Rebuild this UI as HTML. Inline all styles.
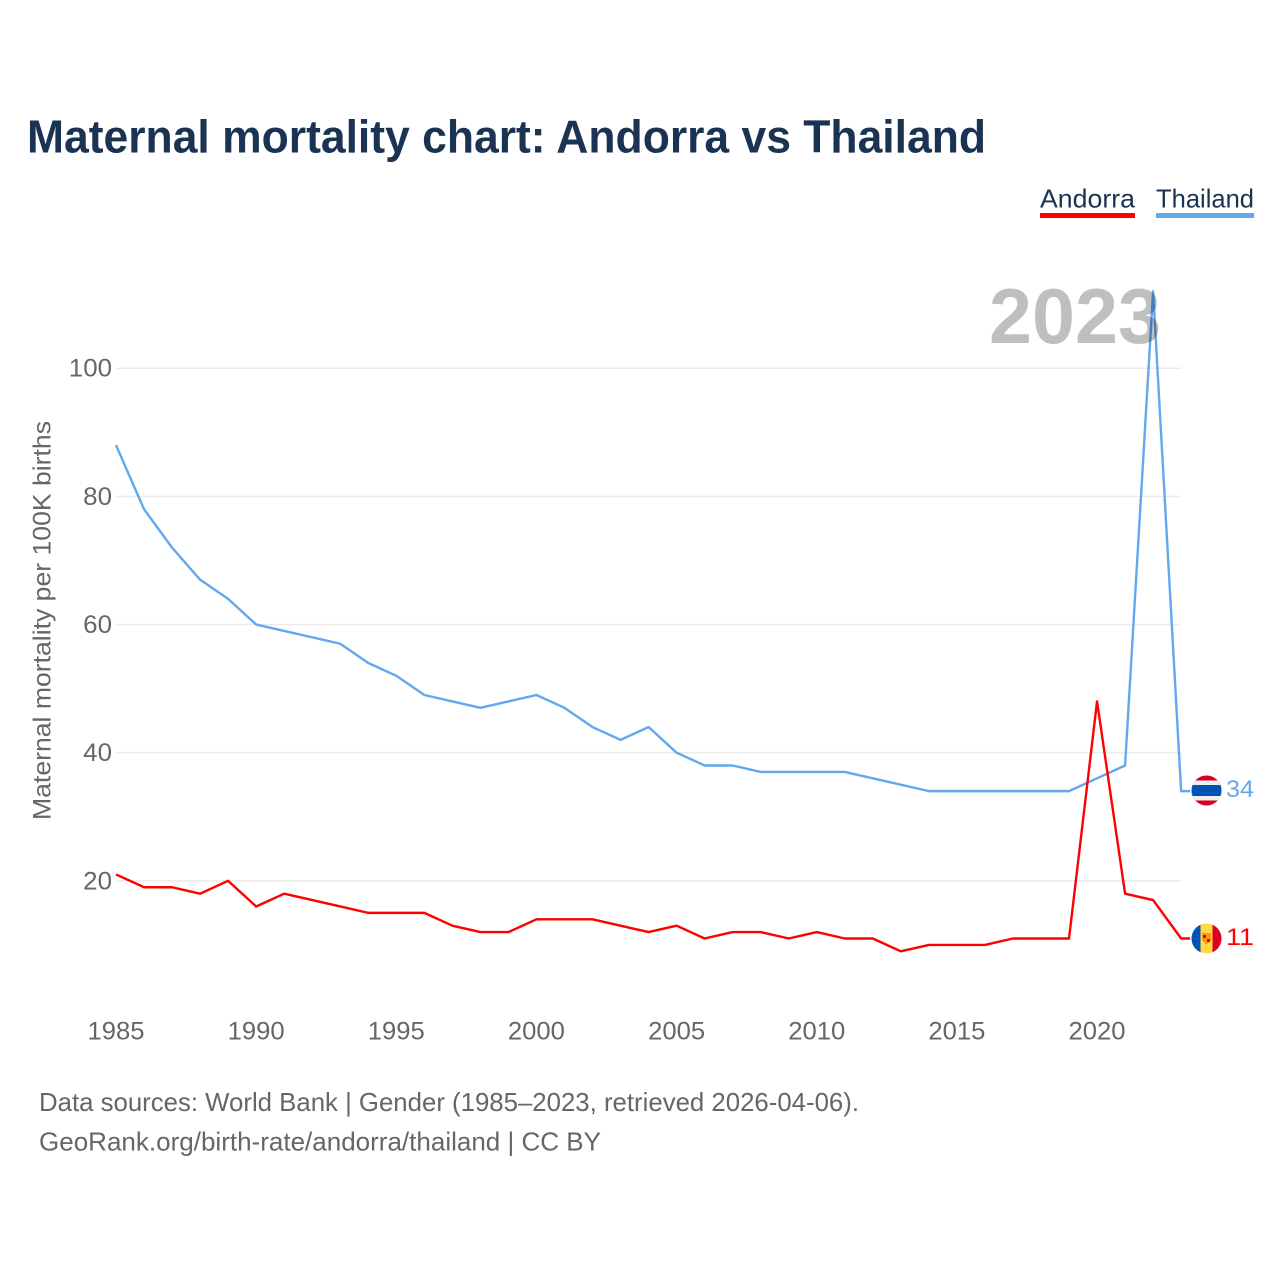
<!DOCTYPE html>
<html>
<head>
<meta charset="utf-8">
<title>Maternal mortality chart: Andorra vs Thailand</title>
<style>
html,body{margin:0;padding:0;background:#fff;width:1280px;height:1280px;overflow:hidden}
svg{display:block}
text{font-family:"Liberation Sans",sans-serif}
</style>
</head>
<body>
<svg id="chart" width="1280" height="1280" viewBox="0 0 1280 1280" xmlns="http://www.w3.org/2000/svg">
  <rect width="1280" height="1280" fill="#fff"/>
  <text x="27" y="152.500" font-size="46" font-weight="700" fill="#1a3352" textLength="959" lengthAdjust="spacingAndGlyphs">Maternal mortality chart: Andorra vs Thailand</text>
  <g>
    <g>
      <text x="1040" y="207.500" font-size="26" fill="#1a3352" textLength="95" lengthAdjust="spacingAndGlyphs">Andorra</text>
      <rect x="1040" y="213" width="95" height="5" fill="#ff0000"/>
    </g>
    <g>
      <text x="1156" y="207.500" font-size="26" fill="#1a3352" textLength="98" lengthAdjust="spacingAndGlyphs">Thailand</text>
      <rect x="1156" y="213" width="98" height="5" fill="#62a8ee"/>
    </g>
  </g>
  <g id="grid"></g>
  <g id="yticks"></g>
  <g id="xticks"></g>
  <text transform="translate(50.500,820) rotate(-90)" x="0" y="0" font-size="25" fill="#666666" textLength="399" lengthAdjust="spacingAndGlyphs">Maternal mortality per 100K births</text>
  <g id="series"></g>
  <text x="989" y="343" font-size="78" font-weight="700" fill="#000" fill-opacity="0.25" textLength="172" lengthAdjust="spacingAndGlyphs">2023</text>

  <defs>
    <clipPath id="flagTh"><circle cx="1206.5" cy="790.5" r="15"/></clipPath>
    <clipPath id="flagAd"><circle cx="1206.5" cy="938.5" r="15"/></clipPath>
  </defs>
  <g clip-path="url(#flagTh)">
    <rect x="1191" y="775" width="31" height="31" fill="#d80027"/>
    <rect x="1191" y="780.500" width="31" height="20" fill="#eeeeee"/>
    <rect x="1191" y="785" width="31" height="11" fill="#0052b4"/>
  </g>
  <g clip-path="url(#flagAd)">
    <rect x="1191" y="923" width="31" height="31" fill="#ffda44"/>
    <rect x="1191" y="923" width="9.5" height="31" fill="#0052b4"/>
    <rect x="1212.5" y="923" width="9.5" height="31" fill="#d80027"/>
    <path d="M1202 933h9v7l-4.500 5-4.500-5z" fill="#ff9811"/>
    <rect x="1203" y="935" width="3" height="3" fill="#d80027"/>
    <rect x="1207" y="939" width="3" height="3" fill="#d80027"/>
  </g>
  <text id="label-th" x="1226" y="797" font-size="24" fill="#62a8ee" textLength="28" lengthAdjust="spacingAndGlyphs">34</text>
  <text id="label-ad" x="1226" y="945" font-size="24" fill="#ff0000" textLength="28" lengthAdjust="spacingAndGlyphs">11</text>

  <text x="39" y="1111" font-size="26" fill="#666666" textLength="820" lengthAdjust="spacingAndGlyphs">Data sources: World Bank | Gender (1985–2023, retrieved 2026-04-06).</text>
  <text x="39" y="1150.500" font-size="26" fill="#666666" textLength="562" lengthAdjust="spacingAndGlyphs">GeoRank.org/birth-rate/andorra/thailand | CC BY</text>
</svg>
<script>
const years = [1985,1986,1987,1988,1989,1990,1991,1992,1993,1994,1995,1996,1997,1998,1999,2000,2001,2002,2003,2004,2005,2006,2007,2008,2009,2010,2011,2012,2013,2014,2015,2016,2017,2018,2019,2020,2021,2022,2023];
const thailandValues = [88,78,72,67,64,60,59,58,57,54,52,49,48,47,48,49,47,44,42,44,40,38,38,37,37,37,37,36,35,34,34,34,34,34,34,36,38,112,34];
const andorraValues = [21,19,19,18,20,16,18,17,16,15,15,15,13,12,12,14,14,14,13,12,13,11,12,12,11,12,11,11,9,10,10,10,11,11,11,48,18,17,11];
const yTickValues = [20,40,60,80,100];
const xTickValues = [1985,1990,1995,2000,2005,2010,2015,2020];

const NS = 'http://www.w3.org/2000/svg';
function xScale(year) { return 116 + (year - 1985) * 28.03; }
function yScale(value) { return 1009 - value * 6.408; }
function make(tag, attrs, parent) {
  const el = document.createElementNS(NS, tag);
  for (const k in attrs) el.setAttribute(k, attrs[k]);
  parent.appendChild(el);
  return el;
}

const grid = document.getElementById('grid');
const yticks = document.getElementById('yticks');
const xticks = document.getElementById('xticks');
const series = document.getElementById('series');

yTickValues.forEach(function (v) {
  const line = make('line', {x1: 116, x2: 1181, y1: yScale(v), y2: yScale(v), stroke: '#ebebeb', 'stroke-width': 1.5}, grid);
  
  
  const t = make('text', {x: 112, y: yScale(v) + 8.5, 'text-anchor': 'end', 'font-size': 25, fill: '#666666', textLength: String(v).length * 14.4, lengthAdjust: 'spacingAndGlyphs'}, yticks);
  t.textContent = v;
  
  
});

xTickValues.forEach(function (y) {
  const t = make('text', {x: xScale(y), y: 1039.5, 'text-anchor': 'middle', 'font-size': 25, fill: '#666666', textLength: 57, lengthAdjust: 'spacingAndGlyphs'}, xticks);
  t.textContent = y;
  
  
});

function drawSeries(values, color, name) {
  const pts = values.map(function (v, i) { return xScale(years[i]) + ',' + yScale(v); });
  const last = values[values.length - 1];
  pts.push((xScale(years[years.length - 1]) + 9) + ',' + yScale(last));
  const p = make('polyline', {points: pts.join(' '), fill: 'none', stroke: color, 'stroke-width': 2.4, 'stroke-linejoin': 'round'}, series);
  
  
}
drawSeries(thailandValues, '#62a8ee', 'line-thailand');
drawSeries(andorraValues, '#ff0000', 'line-andorra');
</script>
</body>
</html>
